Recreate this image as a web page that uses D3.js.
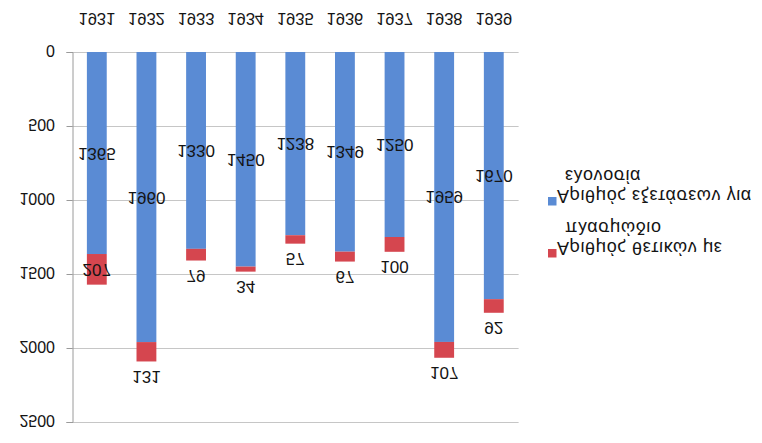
<!DOCTYPE html>
<html>
<head>
<meta charset="utf-8">
<script src="https://cdn.jsdelivr.net/npm/d3@7"></script>
<style>
    body { margin: 0; background: #fff; }
    text { font-family: "Liberation Sans", Arial, sans-serif; fill: #141414; }
</style>
</head>
<body>
<div id="chart"></div>
<script>
// chart data (the picture is the original chart flipped upside down)
var years = ["1931", "1932", "1933", "1934", "1935", "1936", "1937", "1938", "1939"];
var tests = [1365, 1960, 1330, 1450, 1238, 1349, 1250, 1959, 1670];
var positives = [207, 131, 79, 34, 57, 67, 100, 107, 92];
var yTicks = [0, 500, 1000, 1500, 2000, 2500];
var testsName = ["Αριθμός εξετάσεων για", "ελονοσία"];
var positivesName = ["Αριθμός θετικών με", "πλασμώδιο"];

var width = 762, height = 443;
var blue = "#5a8bd4", red = "#d5464f";

var svg = d3.select("#chart")
    .append("svg")
    .attr("width", width)
    .attr("height", height);

// scales: value axis runs downward
var x = d3.scaleBand()
    .domain(years)
    .range([72, 518.6])
    .paddingInner(0.6)
    .paddingOuter(0.3);

var y = d3.scaleLinear()
    .domain([0, 2500])
    .range([52, 422]);

// text is mirrored vertically around its own centre
function flip(sel, px, py) {
    return sel.attr("transform", "translate(" + px + "," + py + ") scale(1,-1)")
        .attr("dominant-baseline", "central");
}

// gridlines
svg.append("g")
    .selectAll("line")
    .data(yTicks)
    .enter()
    .append("line")
    .attr("x1", 72)
    .attr("x2", 518.6)
    .attr("y1", function (d) { return y(d) + 0.5; })
    .attr("y2", function (d) { return y(d) + 0.5; })
    .attr("stroke", "#c6c6c6");

// value axis with ticks on the left
var yAxis = svg.append("g")
    .attr("transform", "translate(72.5,0)")
    .call(d3.axisLeft(y).tickValues(yTicks).tickSize(6).tickFormat(""));
yAxis.select(".domain").attr("stroke", "#9a9a9a");
yAxis.selectAll(".tick line").attr("stroke", "#9a9a9a");

svg.append("g")
    .selectAll("text")
    .data(yTicks)
    .enter()
    .append("text")
    .each(function (d) { flip(d3.select(this), 55, y(d) - 2); })
    .attr("text-anchor", "end")
    .style("font-size", "16px")
    .text(function (d) { return d; });

// year labels
svg.append("g")
    .selectAll("text")
    .data(years)
    .enter()
    .append("text")
    .each(function (d) { flip(d3.select(this), x(d) + x.bandwidth() / 2, 19); })
    .attr("text-anchor", "middle")
    .style("font-size", "16.5px")
    .text(function (d) { return d; });

// stacked bars
svg.selectAll("rect.tests")
    .data(years)
    .enter()
    .append("rect")
    .attr("class", "tests")
    .attr("x", function (d) { return x(d); })
    .attr("y", y(0))
    .attr("width", x.bandwidth())
    .attr("height", function (d, i) { return y(tests[i]) - y(0); })
    .attr("fill", blue);

svg.selectAll("rect.pos")
    .data(years)
    .enter()
    .append("rect")
    .attr("class", "pos")
    .attr("x", function (d) { return x(d); })
    .attr("y", function (d, i) { return y(tests[i]); })
    .attr("width", x.bandwidth())
    .attr("height", function (d, i) { return y(tests[i] + positives[i]) - y(tests[i]); })
    .attr("fill", red);

// data labels
svg.append("g")
    .selectAll("text")
    .data(years)
    .enter()
    .append("text")
    .each(function (d, i) {
        flip(d3.select(this), x(d) + x.bandwidth() / 2, (y(0) + y(tests[i])) / 2);
    })
    .attr("text-anchor", "middle")
    .style("font-size", "17px")
    .text(function (d, i) { return tests[i]; });

svg.append("g")
    .selectAll("text")
    .data(years)
    .enter()
    .append("text")
    .each(function (d, i) {
        var a = y(tests[i]), b = y(tests[i] + positives[i]);
        var ly = (b - a) > 25 ? (a + b) / 2 : b + 15;
        flip(d3.select(this), x(d) + x.bandwidth() / 2, ly);
    })
    .attr("text-anchor", "middle")
    .style("font-size", "17px")
    .text(function (d, i) { return positives[i]; });

// legend
var legend = [
    { name: testsName, color: blue, cy: 201 },
    { name: positivesName, color: red, cy: 253 }
];

legend.forEach(function (item) {
    svg.append("rect")
        .attr("x", 548)
        .attr("y", item.cy - 4)
        .attr("width", 8.5)
        .attr("height", 8.5)
        .attr("fill", item.color);
    item.name.forEach(function (line, j) {
        svg.append("text")
            .call(flip, j === 0 ? 557 : 565, item.cy - 5 - j * 20.5)
            .style("font-size", "18px")
            .style("letter-spacing", "0.6px")
            .text(line);
    });
});
</script>
</body>
</html>
